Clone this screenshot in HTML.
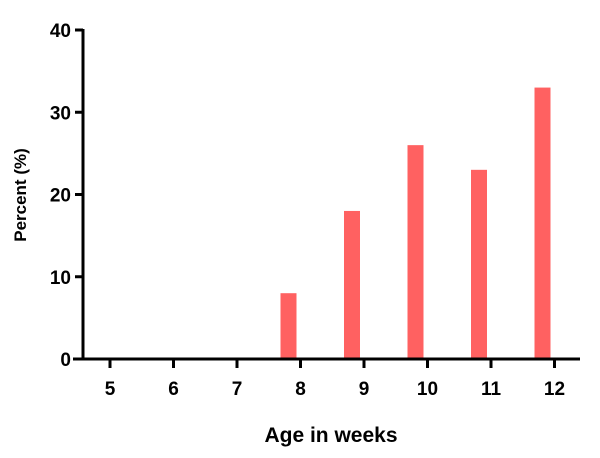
<!DOCTYPE html>
<html><head><style>
body{margin:0;background:#fff;}
svg text{font-family:"Liberation Sans",sans-serif;font-weight:bold;fill:#000;}
</style></head><body>
<svg width="600" height="453">
<g id="g"></g>
</svg>
<script>
const categories=["5","6","7","8","9","10","11","12"];
const values=[0,0,0,8,18,26,23,33];
const yTicks=[0,10,20,30,40];
const x0=110, dx=63.5, yBase=359, yScale=(359-30)/40;
const xPos=i=>x0+i*dx;
const yPos=v=>yBase-v*yScale;
const ns="http://www.w3.org/2000/svg";
const g=document.getElementById('g');
function mk(t,a,txt){const e=document.createElementNS(ns,t);for(const k in a)e.setAttribute(k,a[k]);if(txt!==undefined)e.textContent=txt;g.appendChild(e);return e;}
values.forEach((v,i)=>{if(v<=0)return;
const r=mk('rect',{x:xPos(i)-20,y:yPos(v),width:16,height:yBase-yPos(v),fill:'#ff6161'});

});
const ya=mk('line',{x1:83,y1:yPos(40)-1,x2:83,y2:yBase+1.5,stroke:'#000','stroke-width':3});


const xa=mk('line',{x1:73,y1:yBase,x2:580,y2:yBase,stroke:'#000','stroke-width':3});


yTicks.forEach(t=>{
mk('line',{x1:75,y1:yPos(t),x2:83,y2:yPos(t),stroke:'#000','stroke-width':3});
const l=mk('text',{x:71,y:yPos(t)+7,'text-anchor':'end','font-size':19},t);

});
categories.forEach((c,i)=>{
mk('line',{x1:xPos(i),y1:yBase,x2:xPos(i),y2:yBase+9,stroke:'#000','stroke-width':3});
const l=mk('text',{x:xPos(i),y:yBase+36,'text-anchor':'middle','font-size':19},c);

});
const xt=mk('text',{x:331,y:442,'text-anchor':'middle','font-size':21},'Age in weeks');


const yt=mk('text',{x:0,y:0,'text-anchor':'middle','font-size':17,transform:'translate(26,195) rotate(-90)'},'Percent (%)');


</script>
</body></html>
